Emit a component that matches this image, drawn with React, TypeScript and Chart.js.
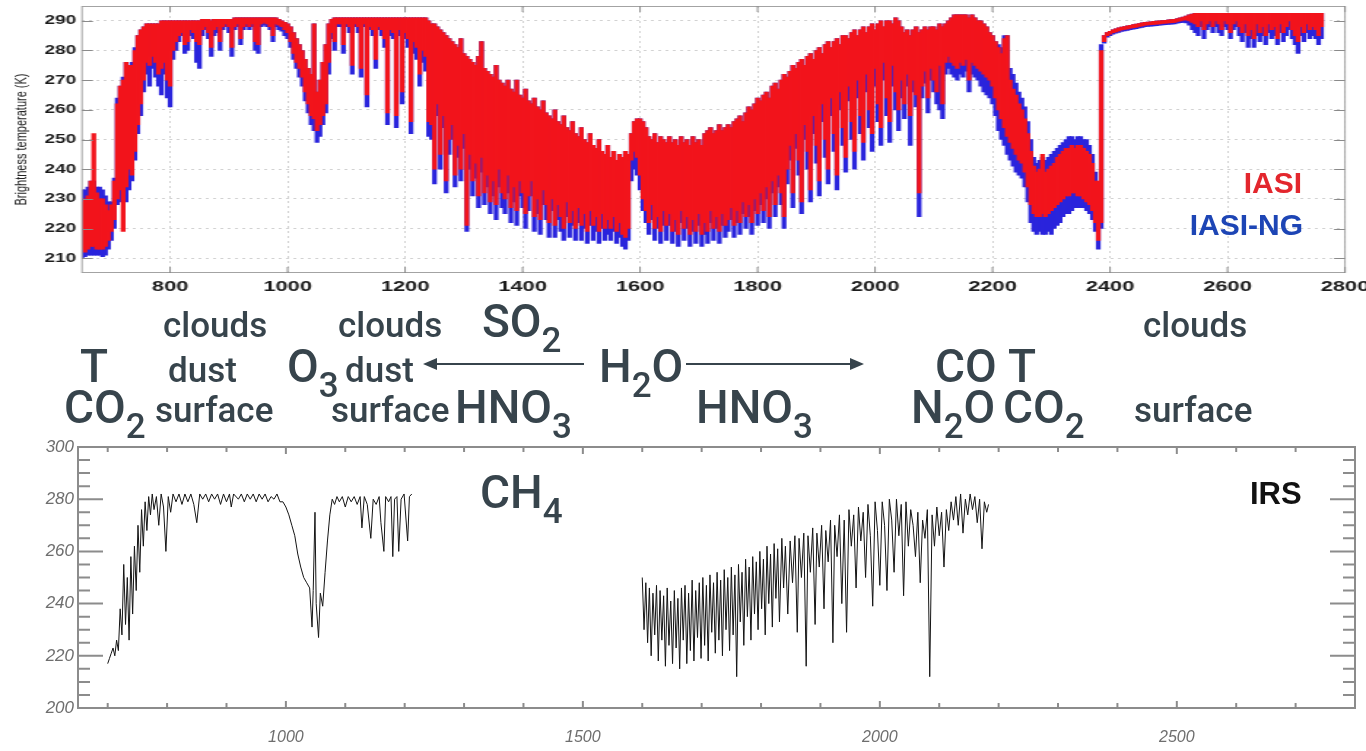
import React, { useEffect, useRef } from 'react';
import { Chart, registerables } from 'chart.js';

Chart.register(...registerables);

// ---------- top chart data (IASI / IASI-NG brightness temperature, K) ----------
// spectral grid: 650 cm-1 to 2760 cm-1 every 5 cm-1
const WN_START = 650;
const WN_STEP = 5;

// IASI band top (hi) and bottom (lo) of the plotted spectrum per grid cell
const iasiHi = [
  229,230,231,236,252,232,230,230,228,226,228,236,262,268,270,276,275,275,280,285,
  287,288,289,289,289,289,289,290,290,290,290,290,290,290,290,290,290,290,290,290,
  290,290.5,290.5,290.5,290,290.5,290.5,290.5,290.5,290.5,290.5,290.5,291,291,291,291,291,291,291,291,
  291,291,291,291,291,291,291,290.5,290,289.5,289,288,286,284,282,280,277,274,272,289,
  266,270,276,282,289,290.5,291,291,291,291,291,291,291,291,291,291,291,291,291,291,
  291,291,291,291,291,291,291,291,291,291,291,291,291,291,291,291,291,291,290,289,
  289,288,287,286,285,284,283,282,281,284,279,278,277,276,275,278,283,274,273,272,
  271,275,270,269,268,270,267,266,270,265,264,267,263,262,264,261,260,263,259,258,
  257,260,256,255,258,254,253,256,252,251,254,250,249,252,248,247,250,246,245,248,
  244,246,243,245,244,246,245,252,256,257,257,256,254,251,250,252,249,251,250,249,
  251,249,250,248,251,249,250,248,251,249,250,248,252,253,254,252,253,255,253,254,
  255,254,256,257,258,256,259,261,260,262,264,263,265,266,264,268,269,267,270,272,
  271,273,275,274,276,277,275,278,279,277,280,281,279,282,283,281,283,284,282,285,
  285,284,286,287,285,287,288,286,288,289,287,289,290,288,290,290,289,291,290,288,
  286,287,285,287,288,286,287,288,287,288,288,287,289,288,289,290,291,292,292,292,
  292,292,291,292,291,290,290,289,288,286,285,283,281,279,284,285,270,267,265,262,
  260,257,252,246,241,239,240,245,239,240,241,242,244,245,246,247,247,248,247,248,
  248,247,246,245,242,236,236,280,285,286,286.5,287,287.3,287.6,287.9,288.1,288.3,288.5,288.7,288.9,
  289.1,289.3,289.5,289.6,289.7,289.8,289.9,290,290.1,290.2,290.3,290.4,290.5,290.8,291,291.3,291.6,292,292.3,292.5,
  292.5,292.5,292.5,292.5,292.5,292.5,292.5,292.5,292.5,292.5,292.5,292.5,292.5,292.5,292.5,292.5,292.5,292.5,292.5,292.5,
  292.5,292.5,292.5,292.5,292.5,292.5,292.5,292.5,292.5,292.5,292.5,292.5,292.5,292.5,292.5,292.5,292.5,292.5,292.5,292.5,
  292.5,292.5,292.5,
];
const iasiLo = [
  213,212,213,214,214,213,213,213,214,216,219,223,230,233,219,234,240,238,246,255,
  262,270,276,275,278,276,272,274,276,270,268,280,283,285,286,282,283,287,286,283,
  282,287,288,286,281,287,288,283,288,289,288,281,288,289,284,288,289,288,289,283,
  282,289,289.5,289,288,285,289,288.5,288,287,286,283,279,276,274,271,266,262,258,257,
  253,255,258,262,276,286,283,289,289,282,289,288,275,289,288,274,289,265,288,287,
  277,288,287,284,259,287,286,258,287,266,286,284,256,283,281,272,280,278,256,255,
  240,262,245,258,236,250,255,238,248,240,252,221,245,236,242,231,244,232,238,229,
  236,228,240,232,230,238,227,234,226,236,232,225,231,236,224,230,223,233,228,222,
  230,221,228,224,220,229,222,226,220,227,221,225,219,226,221,224,219,225,220,223,
  220,224,219,222,218,217,220,243,246,244,238,230,226,222,228,220,224,219,226,221,
  225,219,223,218,226,220,224,218,223,219,225,218,222,219,226,220,224,219,225,221,
  223,227,221,226,222,229,224,228,222,230,225,232,226,234,224,236,228,238,232,224,
  240,248,232,252,243,229,255,246,233,258,248,236,262,250,240,264,252,238,266,254,
  244,268,256,246,270,258,249,272,260,252,274,262,254,276,264,256,275,266,260,270,
  262,272,258,270,265,232,268,273,264,274,270,266,275,262,276,278,276,275,274,276,
  275,277,270,276,275,274,273,272,271,270,268,264,260,257,254,251,249,247,245,243,
  242,239,234,228,225,224,224,225,224,225,226,227,228,229,230,231,231,232,232,231,
  231,230,229,228,226,222,216,222,283,285,285.5,286,286.3,286.6,286.9,287.1,287.3,287.5,287.7,287.9,
  288.1,288.3,288.5,288.6,288.7,288.8,288.9,289,289.1,289.2,289.3,289.4,289.5,289.8,290,290.2,290.3,290,289.5,289,
  288,290,287,289,290,288,290,289,287,290,289,286,289,290,288,286,289,285,287,284,
  289,286,288,285,289,287,288,284,289,286,288,290,287,285,283,288,286,289,287,288,
  287,285,288,
];

// IASI-NG band top (hi) and bottom (lo)
const ngHi = [
  233,233,234,236,236,234,234,233,231,229,229,237,264,268,271,276,275,276,281,285,
  287,288,289,289,289,289,289,290,290,290,290,290,290,290,290,290,290,290,290,290,
  290,290.5,290.5,290.5,290,290.5,290.5,290.5,290.5,290.5,290.5,290.5,291,291,291,291,291,291,291,291,
  291,291,291,291,291,291,291,290.5,290,289.5,289,288,286,284,282,280,277,274,272,289,
  266,270,276,282,289,290.5,291,291,291,291,291,291,291,291,291,291,291,291,291,291,
  291,291,291,291,291,291,291,291,291,291,291,291,291,291,291,291,291,291,290,289,
  289,288,287,286,285,284,283,282,281,284,279,278,277,276,275,278,283,274,273,272,
  271,275,270,269,268,270,267,266,270,265,264,267,263,262,264,261,260,263,259,258,
  257,260,256,255,258,254,253,256,252,251,254,250,249,252,248,247,250,246,245,248,
  244,246,243,245,244,246,245,252,256,257,257,256,254,251,250,252,249,251,250,249,
  251,249,250,248,251,249,250,248,251,249,250,248,252,253,254,252,253,255,253,254,
  255,254,256,257,258,256,259,261,260,262,264,263,265,266,264,268,269,267,270,272,
  271,273,275,274,276,277,275,278,279,277,280,281,279,282,283,281,283,284,282,285,
  285,284,286,287,285,287,288,286,288,289,287,289,290,288,290,290,289,291,290,288,
  286,287,285,287,288,286,287,288,287,288,288,287,289,288,289,290,291,292,292,292,
  292,292,291,292,291,290,290,289,288,286,285,283,282,281,285,285,274,272,269,266,
  264,261,256,250,244,242,243,244,243,244,245,246,247,248,249,250,251,251,250,251,
  251,250,250,248,245,239,230,282,285,286,286.5,287,287.3,287.6,287.9,288.1,288.3,288.5,288.7,288.9,
  289.1,289.3,289.5,289.6,289.7,289.8,289.9,290,290.1,290.2,290.3,290.4,290.5,290.8,291,291.3,291.6,292,292.3,292.5,
  292.5,292.5,292.5,292.5,292.5,292.5,292.5,292.5,292.5,292.5,292.5,292.5,292.5,292.5,292.5,292.5,292.5,292.5,292.5,292.5,
  292.5,292.5,292.5,292.5,292.5,292.5,292.5,292.5,292.5,292.5,292.5,292.5,292.5,292.5,292.5,292.5,292.5,292.5,292.5,292.5,
  292.5,292.5,292.5,
];
const ngLo = [
  210,210.5,211,211,211,211,211,210.5,211,213,216,220,228,229,230,229,233,236,243,252,
  258,266,272,268,274,271,268,265,272,264,261,277,280,283,285,279,280,285,284,276,
  274,285,287,284,278,285,286,280,287,288,286,278,287,288,282,287,288,287,288,280,
  279,288,288.5,288,287,283,288,287,286.5,285,284,281,277,274,271,268,263,259,255,253,
  249,251,255,259,272,284,280,288,288,279,288,286,272,288,286,271,288,261,287,285,
  274,287,285,281,255,285,284,254,285,262,284,281,252,279,277,268,276,273,251,250,
  235,258,240,254,232,245,250,234,244,236,247,219,240,231,237,227,239,228,234,225,
  231,223,234,227,225,232,222,229,221,231,227,220,226,231,219,225,218,228,223,217,
  226,217,223,219,216,224,217,221,216,222,216,220,215,221,216,219,215,220,216,218,
  216,219,215,217,214,213,216,236,240,238,233,226,222,218,223,216,220,215,221,216,
  221,215,219,214,222,216,220,214,219,215,221,214,218,215,222,216,220,215,221,217,
  219,223,217,222,218,225,220,224,218,226,221,228,222,230,220,232,224,234,228,220,
  235,243,227,247,238,225,250,240,229,252,242,231,256,244,235,258,246,233,260,248,
  239,263,250,240,264,252,243,266,254,246,268,256,248,270,258,249,268,260,253,264,
  257,268,248,266,261,224,264,269,259,270,266,262,260,257,272,274,272,271,270,272,
  271,273,266,272,271,270,268,266,265,264,262,258,253,250,248,245,243,241,239,238,
  237,234,229,222,219,218,219,218,218,219,218,220,221,222,224,225,225,226,227,227,
  227,227,226,225,223,219,213,220,282.5,284.5,285,285.5,285.8,286.1,286.4,286.6,286.8,287,287.2,287.4,
  287.6,287.8,288,288.1,288.2,288.3,288.4,288.5,288.6,288.7,288.8,288.9,289,289.2,289.4,289.5,289.3,288.5,287,286,
  285,288,284,287,288,286,288,286,285,288,287,284,287,288,285,283,286,281,284,281,
  285,283,285,282,286,284,285,282,286,283,285,287,284,282,279,285,283,286,284,285,
  284,282,284,
];

const topXTicks = [800, 1000, 1200, 1400, 1600, 1800, 2000, 2200, 2400, 2600, 2800];
const topYTicks = [210, 220, 230, 240, 250, 260, 270, 280, 290];

// ---------- bottom chart data (IRS) ----------
const irsWn = [
  700,703,706,709,712,715,718,721,724,727, 730,733,736,739,742,745,748,751,754,757,
  760,763,766,769,772,775,778,782,786,790, 794,798,802,806,810,815,820,825,830,835,
  840,845,850,855,860,865,870,875,880,885, 890,895,900,905,908,912,920,925,930,935,
  940,945,950,955,960,965,970,975,980,985, 990,995,1000,1005,1010,1015,1020,1025,1030,1035,
  1040,1044,1046,1049,1051,1055,1058,1062,1066,1070, 1074,1078,1082,1086,1090,1095,1100,1105,1110,1115,
  1120,1125,1128,1132,1137,1143,1147,1152,1157,1160, 1165,1168,1173,1177,1180,1183,1187,1190,1194,1199,
  1205,1208,1212,
  1400,
  1600,1603,1606,1609,1612,1615,1618,1621,1624,1627, 1630,1633,1636,1639,1642,1645,1648,1651,1654,1657,
  1660,1663,1666,1669,1672,1675,1678,1681,1684,1687, 1690,1693,1696,1699,1702,1705,1708,1711,1714,1717,
  1720,1723,1726,1729,1732,1735,1738,1741,1744,1747, 1750,1753,1756,1759,1762,1765,1768,1771,1774,1777,
  1780,1783,1786,1789,1792,1795,1798,1801,1804,1807, 1810,1813,1816,1819,1822,1825,1828,1831,1835,1838,
  1841,1845,1849,1853,1857,1861,1864,1868,1872,1876, 1879,1883,1887,1891,1894,1898,1902,1906,1909,1913,
  1917,1921,1924,1928,1932,1936,1940,1944,1948,1952, 1956,1960,1964,1968,1972,1976,1980,1984,1988,1992,
  1996,2000,2004,2008,2012,2016,2020,2024,2028,2032, 2036,2040,2044,2048,2052,2056,2060,2064,2068,2072,
  2076,2080,2084,2088,2092,2096,2100,2104,2108,2112, 2116,2120,2124,2128,2132,2136,2140,2144,2148,2152,
  2156,2160,2164,2168,2172,2176,2180,2183,
];
const irsT = [
  217,219,221,223,220,226,222,238,228,255, 232,250,226,258,236,262,245,270,252,276,
  262,279,268,281,274,282,276,281,270,282, 277,260,281,275,282,279,282,278,282,279,
  282,278,271,282,280,282,279,282,280,282, 278,282,279,282,277,282,280,282,279,282,
  280,282,279,282,280,282,279,281,280,282, 279,279,277,274,270,266,259,254,250,248,
  246,231,245,275,240,227,244,239,252,264, 274,280,278,281,279,281,277,281,279,281,
  278,281,269,281,278,265,280,278,281,271, 260,281,279,281,258,280,281,260,280,282,
  264,281,282,
  null,
  250,230,248,225,246,220,244,228,247,218, 245,226,243,216,246,224,241,217,245,223,
  242,215,246,226,247,217,244,222,249,218, 245,227,248,219,250,224,247,218,251,229,
  248,221,252,226,249,220,253,230,250,222, 254,228,251,212,255,233,252,224,257,235,
  254,226,258,236,256,230,260,238,257,228, 262,240,259,231,263,242,261,233,265,246,
  262,236,264,248,266,229,265,250,267,216, 266,252,269,232,267,254,270,238,268,256,
  272,225,270,258,274,240,272,229,276,262, 274,246,277,264,275,250,278,266,239,279,
  268,247,279,270,245,280,272,252,280,266, 278,243,279,262,276,270,258,275,248,272,
  265,276,212,274,262,277,266,275,254,276, 268,279,272,281,270,282,267,280,274,282,
  276,281,271,280,261,279,275,278,
];

const botXTicks = [1000, 1500, 2000, 2500];
const botYTicks = [200, 220, 240, 260, 280, 300];

// ---------- annotation labels (a digit after "_" is a subscript) ----------
const labelTexts = ['clouds','clouds','SO_2','clouds','T','dust','O_3','dust','H_2O','CO','T','CO_2','surface','surface','HNO_3','HNO_3','N_2O','CO_2','surface','CH_4'];
const labelX =     [163, 338, 482, 1143, 80, 168, 287, 345, 599, 935, 1008, 64, 155, 331, 455, 696, 911, 1003, 1134, 480];
const labelBase =  [337, 337, 337, 337, 382, 382, 382, 382, 382, 382, 382, 423, 422, 422, 423, 423, 423, 423, 422, 508];
const labelSize =  [35, 35, 46, 35, 46, 35, 46, 35, 46, 46, 46, 46, 35, 35, 46, 46, 46, 46, 35, 46];

const RED = '#f2141c';
const BLUE = '#2a24dc';
const INK = '#37444c';

// top chart is drawn narrow and stretched horizontally, like the source figure
const TOP_CW = 936;
const SX = 1366 / TOP_CW;

const plain = (v: any) => String(v);

const topFrame = {
  id: 'topFrame',
  afterDraw(chart: any) {
    const { ctx, chartArea: a, scales } = chart;
    ctx.save();
    ctx.strokeStyle = '#a3a3a3';
    ctx.lineWidth = 1;
    ctx.strokeRect(a.left, a.top + 0.5, a.right - a.left, a.bottom - a.top - 1);
    ctx.strokeStyle = '#8a8a8a';
    ctx.beginPath();
    for (const v of topXTicks) {
      const px = scales.x.getPixelForValue(v);
      ctx.moveTo(px, a.bottom); ctx.lineTo(px, a.bottom - 6);
      ctx.moveTo(px, a.top); ctx.lineTo(px, a.top + 6);
    }
    for (const v of topYTicks) {
      const py = Math.round(scales.y.getPixelForValue(v)) + 0.5;
      ctx.moveTo(a.left, py); ctx.lineTo(a.left + 11 / SX, py);
      ctx.moveTo(a.right, py); ctx.lineTo(a.right - 11 / SX, py);
    }
    ctx.stroke();
    ctx.restore();
  },
};

const botFrame = {
  id: 'botFrame',
  afterDraw(chart: any) {
    const { ctx, chartArea: a, scales } = chart;
    ctx.save();
    ctx.strokeStyle = '#8c8c8c';
    ctx.lineWidth = 2;
    ctx.strokeRect(a.left, a.top, a.right - a.left, a.bottom - a.top);
    ctx.beginPath();
    for (let v = 200; v <= 300; v += 5) {
      const py = scales.y.getPixelForValue(v);
      const len = v % 20 === 0 ? 25 : 12;
      ctx.moveTo(a.left, py); ctx.lineTo(a.left + len, py);
      ctx.moveTo(a.right, py); ctx.lineTo(a.right - len, py);
    }
    for (let v = 700; v <= 2700; v += 100) {
      const px = scales.x.getPixelForValue(v);
      const len = v % 500 === 0 ? 7 : 5;
      ctx.moveTo(px, a.bottom); ctx.lineTo(px, a.bottom - len);
      ctx.moveTo(px, a.top); ctx.lineTo(px, a.top + len);
    }
    ctx.stroke();
    ctx.restore();
  },
};

function Formula({ t, x, b, s }: { t: string; x: number; b: number; s: number }) {
  const parts = t.split(/_(\d)/);
  return (
    <div
      style={{
        position: 'absolute', left: x, top: b - 0.842 * s, fontSize: s, lineHeight: `${s}px`,
        fontFamily: 'Roboto, "Noto Sans", sans-serif', fontWeight: 500, color: INK, whiteSpace: 'nowrap',
      }}
    >
      {parts.map((p, i) =>
        i % 2 ? (
          <span key={i} style={{ fontSize: 35, position: 'relative', top: 15 }}>{p}</span>
        ) : (
          <React.Fragment key={i}>{p}</React.Fragment>
        )
      )}
    </div>
  );
}

export default function App() {
  const topRef = useRef<HTMLCanvasElement>(null);
  const botRef = useRef<HTMLCanvasElement>(null);

  useEffect(() => {
    const grid = iasiHi.map((_, i) => WN_START + i * WN_STEP);
    const bars = (lo: number[], hi: number[]) => grid.map((x, i) => ({ x, y: [lo[i], hi[i]] }));
    const tickFont = { family: '"Liberation Sans", Arial, sans-serif', weight: 'bold' as const };

    const top = new Chart(topRef.current!, {
      type: 'bar',
      data: {
        datasets: [
          { label: 'IASI', data: bars(iasiLo, iasiHi) as any, backgroundColor: RED, borderWidth: 0, barThickness: 2.6, grouped: false },
          { label: 'IASI-NG', data: bars(ngLo, ngHi) as any, backgroundColor: BLUE, borderWidth: 0, barThickness: 2.6, grouped: false },
        ],
      },
      options: {
        animation: false,
        responsive: false,
        devicePixelRatio: 1,
        layout: { padding: { left: 0, right: TOP_CW - 1345 / SX, top: 6, bottom: 0 } },
        plugins: { legend: { display: false }, tooltip: { enabled: false } },
        scales: {
          x: {
            type: 'linear', min: 650, max: 2800, offset: false,
            afterBuildTicks: (s: any) => { s.ticks = topXTicks.map((v) => ({ value: v })); },
            afterFit: (s: any) => { s.height = 27; s.paddingLeft = 0; s.paddingRight = 0; },
            ticks: { color: '#1c1c1c', font: { ...tickFont, size: 15 }, padding: 5, maxRotation: 0, autoSkip: false, callback: plain },
            grid: { color: '#d2d2d2', lineWidth: 1, drawTicks: false, offset: false },
            border: { display: false, dash: [2, 3] },
          },
          y: {
            type: 'linear', min: 205, max: 295,
            afterBuildTicks: (s: any) => { s.ticks = topYTicks.map((v) => ({ value: v })); },
            afterFit: (s: any) => { s.width = 82 / SX; s.paddingTop = 0; s.paddingBottom = 0; },
            ticks: { color: '#1c1c1c', font: { ...tickFont, size: 13 }, padding: 4, callback: plain },
            grid: { color: '#d2d2d2', lineWidth: 1, drawTicks: false },
            border: { display: false, dash: [2, 3] },
            title: {
              display: true, text: 'Brightness temperature (K)', color: '#222',
              font: { family: '"Liberation Sans", Arial, sans-serif', size: 11 }, padding: { top: 8, bottom: 0 },
            },
          },
        },
      },
      plugins: [topFrame],
    });

    const irs = irsWn.map((x, i) => ({ x, y: irsT[i] }));
    const labelFont = { family: '"Liberation Sans", Arial, sans-serif', style: 'italic' as const };
    const bot = new Chart(botRef.current!, {
      type: 'line',
      data: {
        datasets: [
          { label: 'IRS', data: irs as any, borderColor: '#141414', borderWidth: 1, pointRadius: 0, spanGaps: false, tension: 0 },
        ],
      },
      options: {
        animation: false,
        responsive: false,
        devicePixelRatio: 1,
        layout: { padding: { left: 0, right: 11, top: 17, bottom: 0 } },
        plugins: { legend: { display: false }, tooltip: { enabled: false } },
        scales: {
          x: {
            type: 'linear', min: 650, max: 2800,
            afterBuildTicks: (s: any) => { s.ticks = botXTicks.map((v) => ({ value: v })); },
            afterFit: (s: any) => { s.height = 43; s.paddingLeft = 0; s.paddingRight = 0; },
            ticks: { color: '#6e6e6e', font: { ...labelFont, size: 16 }, padding: 20, maxRotation: 0, autoSkip: false, callback: plain },
            grid: { display: false, drawTicks: false },
            border: { display: false },
          },
          y: {
            type: 'linear', min: 200, max: 300,
            afterBuildTicks: (s: any) => { s.ticks = botYTicks.map((v) => ({ value: v })); },
            afterFit: (s: any) => { s.width = 78; s.paddingTop = 0; s.paddingBottom = 0; },
            ticks: { color: '#6e6e6e', font: { ...labelFont, size: 17 }, padding: 4, callback: plain },
            grid: { display: false, drawTicks: false },
            border: { display: false },
          },
        },
      },
      plugins: [botFrame],
    });

    return () => { top.destroy(); bot.destroy(); };
  }, []);

  return (
    <div style={{ position: 'absolute', left: 0, top: 0, width: 1366, height: 751, background: '#fff', overflow: 'hidden' }}>
      <canvas ref={topRef} width={TOP_CW} height={300}
        style={{ position: 'absolute', left: 0, top: 0, width: 1366, height: 300 }} />
      <canvas ref={botRef} width={1366} height={321}
        style={{ position: 'absolute', left: 0, top: 430, width: 1366, height: 321 }} />

      <div style={{ position: 'absolute', right: 64, top: 193 - 0.8465 * 30, fontSize: 30, lineHeight: '30px',
        fontFamily: '"Liberation Sans", Arial, sans-serif', fontWeight: 'bold', color: '#e3262d' }}>IASI</div>
      <div style={{ position: 'absolute', right: 63, top: 235 - 0.8465 * 30, fontSize: 30, lineHeight: '30px',
        fontFamily: '"Liberation Sans", Arial, sans-serif', fontWeight: 'bold', color: '#1d45b5' }}>IASI-NG</div>
      <div style={{ position: 'absolute', left: 1250, top: 504 - 0.8465 * 31, fontSize: 31, lineHeight: '31px',
        fontFamily: '"Liberation Sans", Arial, sans-serif', fontWeight: 'bold', color: '#111' }}>IRS</div>

      <svg width={1366} height={751} style={{ position: 'absolute', left: 0, top: 0, pointerEvents: 'none' }}>
        <line x1={584} y1={364} x2={434} y2={364} stroke={INK} strokeWidth={2} />
        <polygon points="423,364 437,358 437,370" fill={INK} />
        <line x1={686} y1={364} x2={852} y2={364} stroke={INK} strokeWidth={2} />
        <polygon points="864,364 850,358 850,370" fill={INK} />
      </svg>

      {labelTexts.map((t, i) => (
        <Formula key={i} t={t} x={labelX[i]} b={labelBase[i]} s={labelSize[i]} />
      ))}
    </div>
  );
}
